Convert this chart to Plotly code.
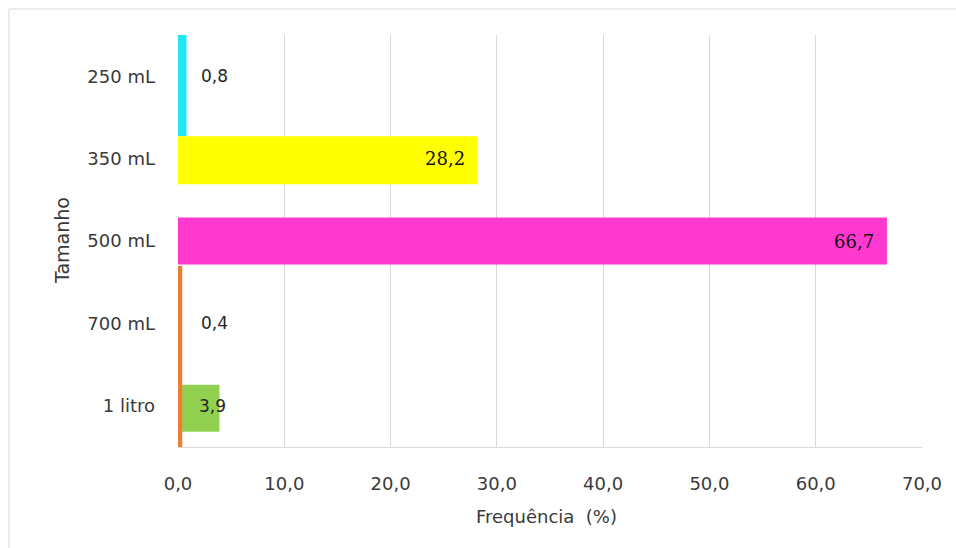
import plotly.graph_objects as go

# Bottle sizes and their frequency (%)
sizes = ["250 mL", "350 mL", "500 mL", "700 mL", "1 litro"]
freq = [0.8, 28.2, 66.7, 0.4, 3.9]
labels = ["0,8", "28,2", "66,7", "0,4", "3,9"]

colors = ["#1FE6F0", "#FFFF00", "#FF38D0", "#ED7D31", "#92D050"]
bar_width = [1.226, 0.58, 0.57, 2.197, 0.57]
bar_offset = [-0.5, -0.27, -0.285, -0.697, -0.255]
draw_order = [0, 1, 2, 4, 3]

fig = go.Figure()
for i in draw_order:
    fig.add_trace(go.Bar(
        y=[sizes[i]], x=[freq[i]], orientation="h",
        width=[bar_width[i]], offset=[bar_offset[i]],
        marker=dict(color=colors[i], line=dict(width=0)),
        showlegend=False, hoverinfo="skip",
    ))

# value labels: outside for the tiny bars, inside-end for the others
label_font_sans = dict(family="DejaVu Sans", size=17, color="#262626")
label_font_serif = dict(family="DejaVu Serif", size=18, color="#111111")
label_style = {
    0: dict(xanchor="left", xshift=12, font=label_font_sans),
    1: dict(xanchor="right", xshift=-11, font=label_font_serif),
    2: dict(xanchor="right", xshift=-11, font=label_font_serif),
    3: dict(xanchor="left", xshift=17, font=label_font_sans),
    4: dict(xanchor="right", xshift=9, font=label_font_sans),
}
for i, (s, v, t) in enumerate(zip(sizes, freq, labels)):
    fig.add_annotation(x=v, y=s, text=t, showarrow=False,
                       yanchor="middle", **label_style[i])

title_font = dict(family="DejaVu Sans", size=18, color="#3a3a3a")

fig.update_layout(
    width=956, height=548,
    margin=dict(l=178, r=34, t=35, b=101),
    paper_bgcolor="white", plot_bgcolor="white",
    barmode="overlay",
    separators=", ",
    font=dict(family="DejaVu Sans", size=18, color="#3a3a3a"),
    xaxis=dict(
        range=[0, 70], dtick=10, tickformat=".1f",
        showgrid=True, gridcolor="#d9d9d9", gridwidth=1,
        zeroline=False, showline=True, linecolor="#d9d9d9",
        ticks="", ticklabelstandoff=20, fixedrange=True,
    ),
    yaxis=dict(
        type="category", categoryorder="array", categoryarray=sizes,
        autorange="reversed",
        showgrid=False, zeroline=False, showline=False,
        ticks="", ticklabelstandoff=22, fixedrange=True,
    ),
    shapes=[dict(
        type="rect", xref="paper", yref="paper",
        x0=(9 - 178) / 744, x1=1.2, y0=-0.4, y1=1 + (35 - 9) / 412,
        line=dict(color="#d9d9d9", width=1), fillcolor="rgba(0,0,0,0)",
        layer="below",
    )],
    annotations=list(fig.layout.annotations) + [
        dict(text="Frequência&nbsp; (%)", xref="paper", yref="paper",
             x=(546 - 178) / 744, y=-(516 - 447) / 412,
             xanchor="center", yanchor="middle",
             showarrow=False, font=title_font),
        dict(text="Tamanho", xref="paper", yref="paper", textangle=-90,
             x=(62 - 178) / 744, y=0.5, xanchor="center", yanchor="middle",
             showarrow=False, font=dict(title_font, size=19)),
    ],
)

fig.write_html("out.html")
